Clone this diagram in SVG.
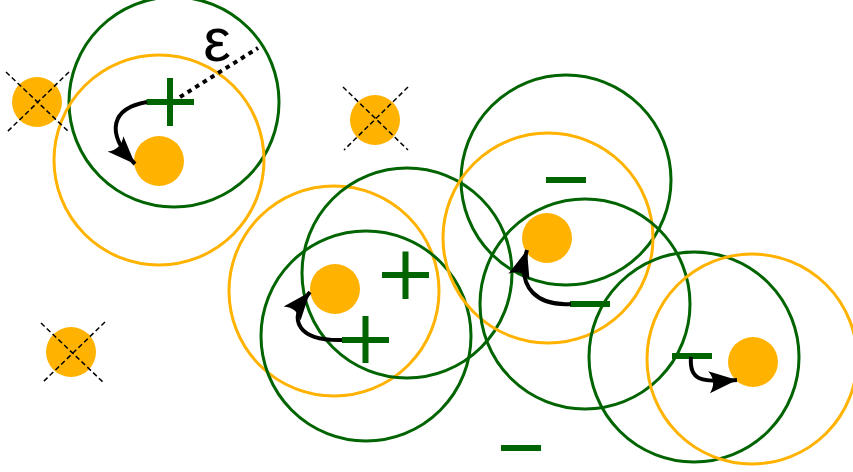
<svg xmlns="http://www.w3.org/2000/svg" width="853" height="472" viewBox="0 0 853 472">
<style>
.gc{fill:none;stroke:#006400;stroke-width:3}
.oc{fill:none;stroke:#ffb300;stroke-width:3}
.dot{fill:#ffb300}
.sign{stroke:#006400;stroke-width:6;fill:none}
.cross{stroke:#000;stroke-width:1.5;stroke-dasharray:5 3;fill:none}
.arrow{fill:none;stroke:#000;stroke-width:4;marker-end:url(#ah)}
.eps{font-family:"Liberation Sans","DejaVu Sans",sans-serif;font-size:62px;fill:#000}
</style>
<defs>
<marker id="ah" markerUnits="userSpaceOnUse" viewBox="-30 -15 32 30" markerWidth="32" markerHeight="30" refX="0" refY="0" orient="auto">
<path d="M0,0 L-28,-11 Q-20,0 -28,11 Z" fill="#000"/>
</marker>
</defs>
<rect width="853" height="472" fill="#fff"/>
<g id="circles">
<circle id="g1" class="gc" cx="174" cy="102" r="105"/>
<circle id="o1" class="oc" cx="159" cy="160" r="105"/>
<circle id="o2" class="oc" cx="334" cy="291" r="105"/>
<circle id="g2" class="gc" cx="407" cy="273" r="105"/>
<circle id="g3" class="gc" cx="366" cy="336" r="105"/>
<circle id="g4" class="gc" cx="566" cy="180" r="105"/>
<circle id="o3" class="oc" cx="548" cy="238" r="105"/>
<circle id="g5" class="gc" cx="585" cy="304" r="105"/>
<circle id="g6" class="gc" cx="694" cy="357" r="105"/>
<circle id="o4" class="oc" cx="752" cy="359" r="105"/>
</g>
<g id="dot1"><circle class="dot" cx="159" cy="161" r="25"/></g>
<g id="dot2"><circle class="dot" cx="335" cy="289" r="25"/></g>
<g id="dot3"><circle class="dot" cx="547" cy="238" r="25"/></g>
<g id="dot4"><circle class="dot" cx="753" cy="362" r="25"/></g>
<g id="xdot1"><circle class="dot" cx="37" cy="102" r="25"/><path class="cross" d="M6,72 L69,132 M69,72 L7,132"/></g>
<g id="xdot2"><circle class="dot" cx="375" cy="120" r="25"/><path class="cross" d="M343,87 L408,150 M408,87 L344,150"/></g>
<g id="xdot3"><circle class="dot" cx="71" cy="352" r="25"/><path class="cross" d="M41,323 L104,383 M105,322 L42,383"/></g>
<g id="plus1"><path class="sign" d="M146.5,102 H194 M170,78 V126"/></g>
<g id="plus2"><path class="sign" d="M382,275 H429 M405.5,251.5 V299"/></g>
<g id="plus3"><path class="sign" d="M342,340 H389 M365.5,316 V363"/></g>
<g id="minus1"><path class="sign" d="M546,180 H586"/></g>
<g id="minus2"><path class="sign" d="M570,304 H610"/></g>
<g id="minus3"><path class="sign" d="M672,356 H712"/></g>
<g id="minus4"><path class="sign" d="M501,448 H541"/></g>
<g id="epsilon">
<path d="M180,97 L258,48" stroke="#000" stroke-width="4" stroke-dasharray="4.5 4.5" fill="none"/>
<text class="eps" x="217" y="61" text-anchor="middle">ε</text>
</g>
<g id="connectors">
<path class="arrow" d="M147,102 C112,108 104,132 135,164"/>
<path class="arrow" d="M342,340 C300,341 285,322 310,292"/>
<path class="arrow" d="M571,304 C540,306 515,290 527,250"/>
<path class="arrow" d="M691,357 C689,380 700,383 737,380"/>
</g>
</svg>
